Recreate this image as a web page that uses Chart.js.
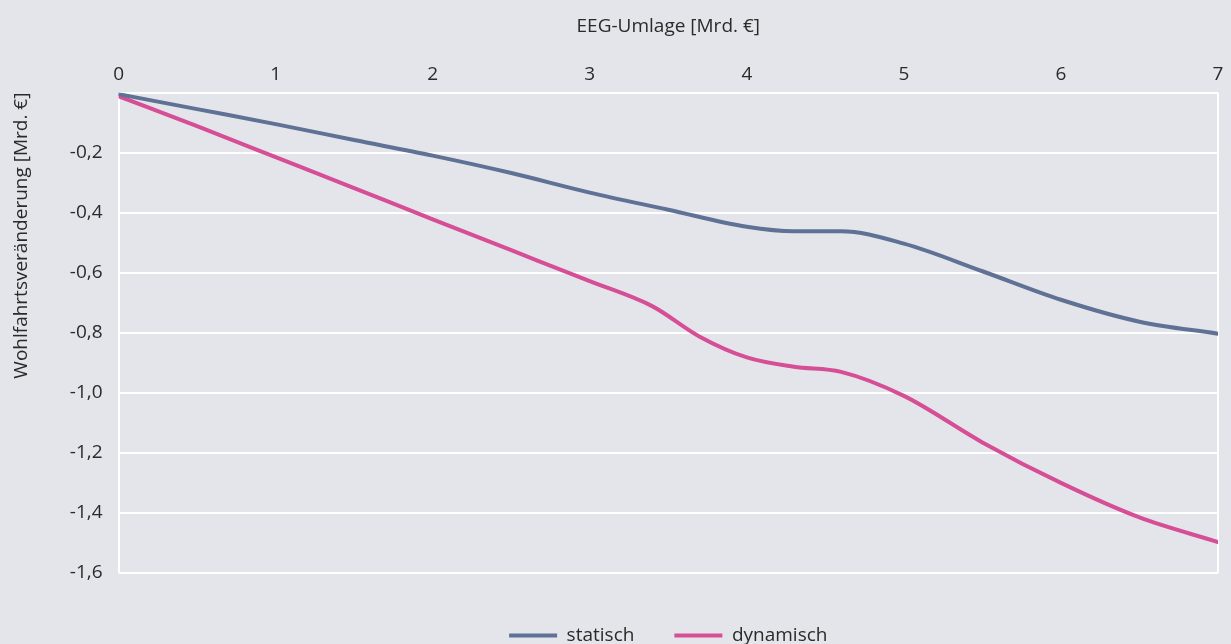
<!DOCTYPE html>
<html>
<head>
<meta charset="utf-8">
<script src="https://cdn.jsdelivr.net/npm/chart.js"></script>
<style>
  html, body { margin: 0; padding: 0; background: #e4e5ea; }
  #wrap { width: 1231px; height: 644px; }
</style>
</head>
<body>
<div id="wrap"><canvas id="chart"></canvas></div>
<script>
// EEG-Umlage (x) vs. Wohlfahrtsveränderung (y), Mrd. €
const umlageStatisch = [0, 0.5, 1, 1.5, 2, 2.5, 3, 3.5, 4, 4.3, 4.6, 5, 5.5, 6, 6.5, 7];
const wertStatisch = [-0.005, -0.055, -0.105, -0.158, -0.21, -0.268, -0.333, -0.39, -0.447, -0.462, -0.462, -0.503, -0.595, -0.69, -0.763, -0.803];

const umlageDynamisch = [0, 0.5, 1, 1.5, 2, 2.5, 3, 3.4, 3.7, 4, 4.3, 4.6, 5, 5.5, 6, 6.5, 7];
const wertDynamisch = [-0.012, -0.112, -0.215, -0.318, -0.422, -0.525, -0.628, -0.712, -0.813, -0.882, -0.913, -0.93, -1.01, -1.165, -1.3, -1.415, -1.497];

const xTicks = [0, 1, 2, 3, 4, 5, 6, 7];
const yTicks = [0, -0.2, -0.4, -0.6, -0.8, -1.0, -1.2, -1.4, -1.6];

const toPoints = (xs, ys) => xs.map((x, i) => ({ x: x, y: ys[i] }));
const textColor = '#2a2a2a';
const fontFamily = '"Open Sans", "Noto Sans", sans-serif';

const bgPlugin = {
  id: 'bg',
  beforeDraw(chart) {
    const ctx = chart.ctx;
    ctx.save();
    ctx.fillStyle = '#e4e5ea';
    ctx.fillRect(0, 0, chart.width, chart.height);
    ctx.restore();
  }
};

new Chart(document.getElementById('chart'), {
  type: 'line',
  data: {
    datasets: [
      {
        label: 'statisch',
        data: toPoints(umlageStatisch, wertStatisch),
        borderColor: '#5f7195',
        backgroundColor: '#5f7195',
        borderWidth: 4,
        borderCapStyle: 'round',
        pointRadius: 0,
        cubicInterpolationMode: 'monotone'
      },
      {
        label: 'dynamisch',
        data: toPoints(umlageDynamisch, wertDynamisch),
        borderColor: '#d64e96',
        backgroundColor: '#d64e96',
        borderWidth: 4,
        borderCapStyle: 'round',
        pointRadius: 0,
        cubicInterpolationMode: 'monotone'
      }
    ]
  },
  options: {
    responsive: true,
    maintainAspectRatio: false,
    animation: false,
    layout: { padding: { left: 0, right: 13, top: 0, bottom: 0 } },
    scales: {
      x: {
        type: 'linear',
        position: 'top',
        min: 0,
        max: 7,
        afterBuildTicks: s => { s.ticks = xTicks.map(v => ({ value: v })); },
        ticks: {
          color: textColor,
          font: { family: fontFamily, size: 19 },
          padding: 7,
          maxRotation: 0
        },
        grid: {
          drawTicks: false,
          lineWidth: 2,
          color: c => (c.tick && (c.tick.value === 0 || c.tick.value === 7)) ? '#ffffff' : 'rgba(0,0,0,0)'
        },
        border: { display: false },
        title: {
          display: true,
          text: 'EEG-Umlage [Mrd. €]',
          color: textColor,
          font: { family: fontFamily, size: 19 },
          padding: { top: 15, bottom: 18 }
        }
      },
      xb: {
        type: 'linear',
        position: 'bottom',
        display: true,
        ticks: { display: false },
        grid: { display: false },
        border: { display: false },
        afterFit: s => { s.height = 13; }
      },
      y: {
        min: -1.6,
        max: 0,
        afterBuildTicks: s => { s.ticks = yTicks.map(v => ({ value: v })); },
        ticks: {
          color: textColor,
          font: { family: fontFamily, size: 19 },
          padding: 16,
          callback: v => v === 0 ? '' : v.toFixed(1).replace('.', ',')
        },
        grid: { drawTicks: false, lineWidth: 2, color: '#ffffff' },
        border: { display: false },
        title: {
          display: true,
          text: 'Wohlfahrtsveränderung [Mrd. €]',
          align: 'end',
          color: textColor,
          font: { family: fontFamily, size: 19 },
          padding: { top: 10, bottom: 21 }
        }
      }
    },
    plugins: {
      legend: {
        position: 'bottom',
        fullSize: false,
        maxHeight: 58,
        labels: {
          usePointStyle: true,
          pointStyle: 'line',
          pointStyleWidth: 48,
          padding: 40,
          color: textColor,
          font: { family: fontFamily, size: 19 }
        }
      },
      tooltip: { enabled: false }
    }
  },
  plugins: [bgPlugin]
});
</script>
</body>
</html>
